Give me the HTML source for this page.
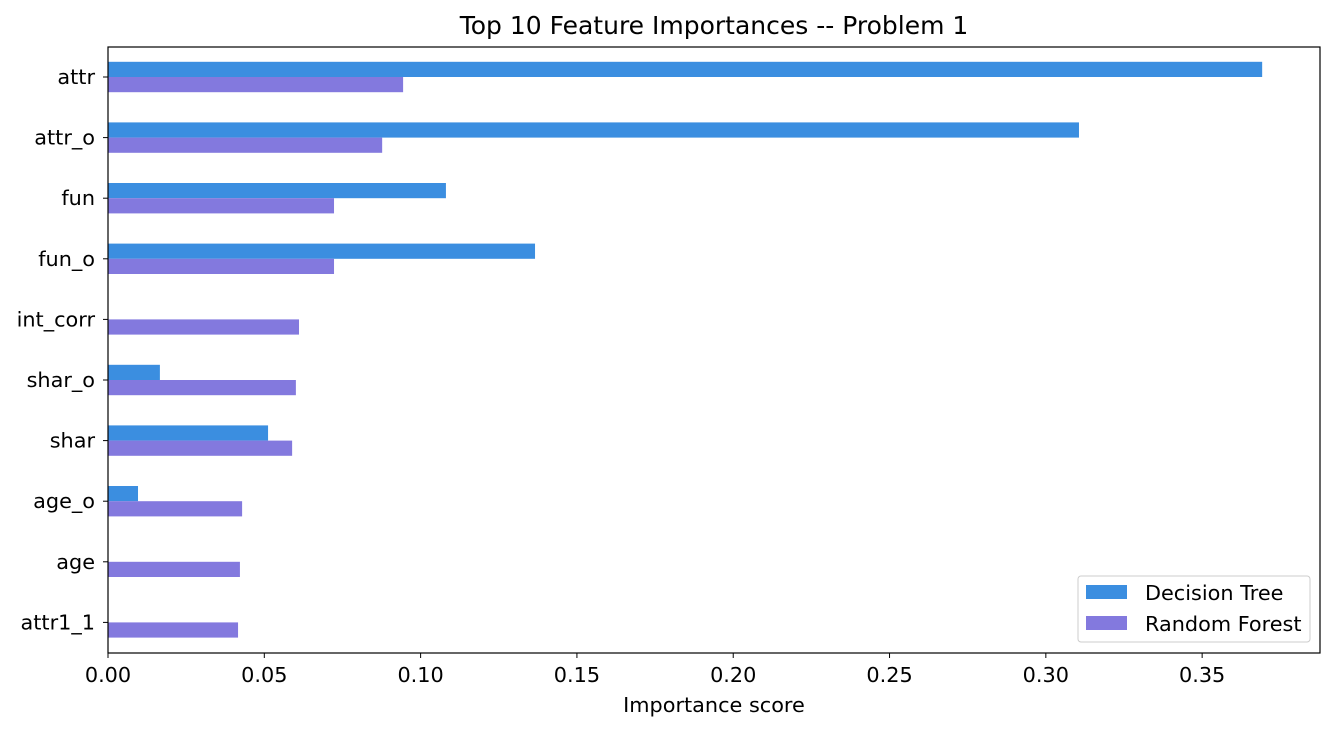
<!DOCTYPE html>
<html><head><meta charset="utf-8"><style>
html,body{margin:0;padding:0;background:#fff;}
svg{display:block;font-family:"DejaVu Sans","Liberation Sans",sans-serif;}
</style></head><body>
<svg id="chart" width="1335" height="731">
<text x="714" y="34" text-anchor="middle" font-size="25" fill="#000">Top 10 Feature Importances -- Problem 1</text>
<g id="bars"></g>
<g id="yticks"></g>
<g id="xticks"></g>
<rect x="108" y="47" width="1212" height="606" fill="none" stroke="#000" stroke-width="1.2"/>
<text x="714" y="712" text-anchor="middle" font-size="20.8">Importance score</text>
<g>
<rect x="1078" y="576" width="232" height="66" rx="3" fill="#fff" stroke="#ccc"/>
<rect x="1086" y="585" width="41" height="14" fill="#3b8ee0"/>
<text x="1145" y="600" font-size="20.8">Decision Tree</text>
<rect x="1086" y="616" width="41" height="14" fill="#8379de"/>
<text x="1145" y="631" font-size="20.8">Random Forest</text>
</g>
</svg>
<script>
const categories=["attr","attr_o","fun","fun_o","int_corr","shar_o","shar","age_o","age","attr1_1"];
const decisionTree=[0.3692,0.3106,0.1081,0.1366,0,0.0166,0.0512,0.0096,0,0];
const randomForest=[0.0944,0.0877,0.0723,0.0723,0.0611,0.0601,0.0589,0.0429,0.0422,0.0416];
const xTicks=[0,0.05,0.10,0.15,0.20,0.25,0.30,0.35];
const xTickLabels=["0.00","0.05","0.10","0.15","0.20","0.25","0.30","0.35"];
const NS="http://www.w3.org/2000/svg";
const x0=108,xMax=0.3877,plotW=1212;
function xs(v){return x0+v/xMax*plotW;}
function ys(i){return 77+i*60.6;}
function mk(tag,attrs,parent){const e=document.createElementNS(NS,tag);for(const k in attrs)e.setAttribute(k,attrs[k]);parent.appendChild(e);return e;}
const bars=document.getElementById('bars'),yt=document.getElementById('yticks'),xt=document.getElementById('xticks');
const bh=15.2;
categories.forEach((c,i)=>{
  const y=ys(i);
  const r1=mk('rect',{x:x0,y:y-bh,width:xs(decisionTree[i])-x0,height:bh,fill:'#3b8ee0'},bars);
  
  
  const r2=mk('rect',{x:x0,y:y,width:xs(randomForest[i])-x0,height:bh,fill:'#8379de'},bars);
  
  
  mk('line',{x1:x0-5,x2:x0,y1:y,y2:y,stroke:'#000'},yt);
  const t=mk('text',{x:x0-13,y:y+7,'text-anchor':'end','font-size':20.8},yt);
  t.textContent=c;
  
  
});
xTicks.forEach((v,i)=>{
  const x=xs(v);
  mk('line',{x1:x,x2:x,y1:653,y2:658,stroke:'#000'},xt);
  const t=mk('text',{x:x,y:682,'text-anchor':'middle','font-size':20.8},xt);
  t.textContent=xTickLabels[i];
  
  
});
</script>
</body></html>
